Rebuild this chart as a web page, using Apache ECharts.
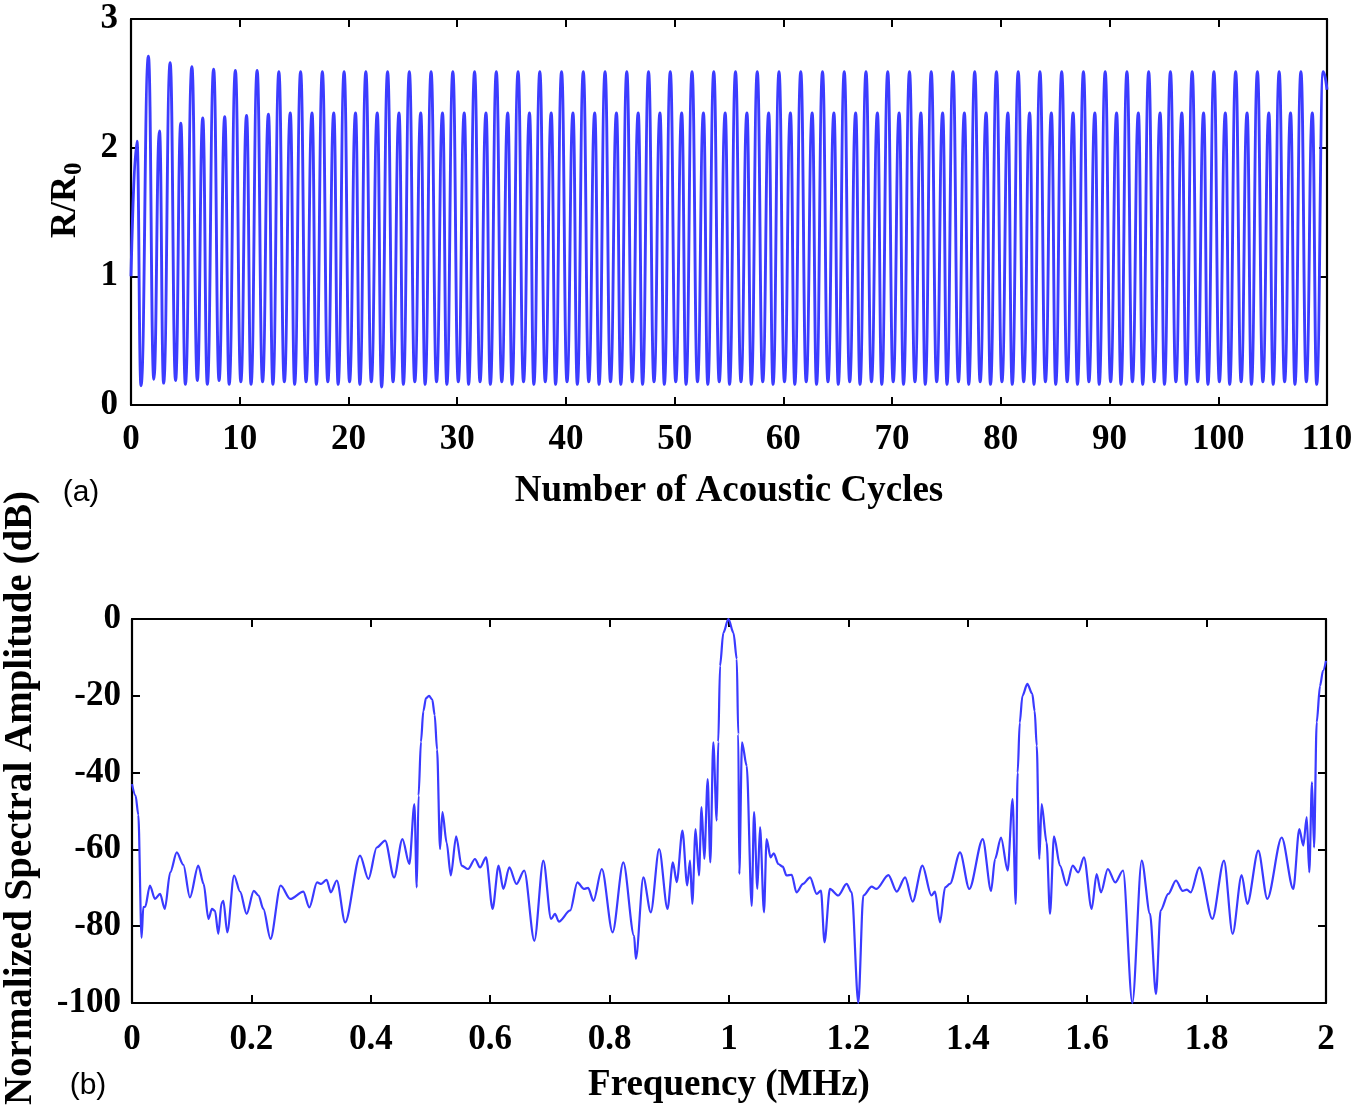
<!DOCTYPE html>
<html>
<head>
<meta charset="utf-8">
<script src="https://cdn.jsdelivr.net/npm/echarts@6/dist/echarts.min.js"></script>
<style>
html,body{margin:0;padding:0;background:#fff;}
#chart{width:1371px;height:1111px;}
</style>
</head>
<body>
<div id="chart"></div>
<script>
// ---------- Panel (a): R/R0 vs number of acoustic cycles ----------
const cyclesRange = [0, 110];
const cyclesTicks = [0, 10, 20, 30, 40, 50, 60, 70, 80, 90, 100, 110];
const radiusTicks = [0, 1, 2, 3];
// [cycle, R/R0] : alternating peaks and troughs
const radiusTrace = [
[0,1.00],[0.55,2.05],[0.92,0.15],
[1.6,2.71],[2.1,0.20],[2.62,2.13],[3.0,0.17],
[3.6,2.66],[4.1,0.19],[4.58,2.19],[5.0,0.16],
[5.6,2.63],[6.1,0.19],[6.6,2.23],[7.02,0.16],
[7.6,2.61],[8.1,0.19],[8.62,2.24],[9.03,0.16],
[9.6,2.60],[10.1,0.18],[10.63,2.25],[11.04,0.16],
[11.6,2.60],[12.1,0.18],[12.64,2.26],[13.05,0.16],
[13.6,2.59],[14.1,0.18],[14.65,2.27],[15.05,0.16],
[15.6,2.59],[16.1,0.18],[16.65,2.27],[17.05,0.16],
[17.6,2.59],[18.1,0.18],[18.65,2.27],[19.05,0.16],
[19.6,2.59],[20.1,0.18],[20.65,2.27],[21.05,0.16],
[21.6,2.59],[22.1,0.18],[22.65,2.27],[23.05,0.14],
[23.6,2.59],[24.1,0.18],[24.65,2.27],[25.05,0.16],
[25.6,2.59],[26.1,0.18],[26.65,2.27],[27.05,0.16],
[27.6,2.59],[28.1,0.18],[28.65,2.27],[29.05,0.16],
[29.6,2.59],[30.1,0.18],[30.65,2.27],[31.05,0.16],
[31.6,2.59],[32.1,0.18],[32.65,2.27],[33.05,0.16],
[33.6,2.59],[34.1,0.18],[34.65,2.27],[35.05,0.16],
[35.6,2.59],[36.1,0.18],[36.65,2.27],[37.05,0.16],
[37.6,2.59],[38.1,0.18],[38.65,2.27],[39.05,0.16],
[39.6,2.59],[40.1,0.18],[40.65,2.27],[41.05,0.16],
[41.6,2.59],[42.1,0.18],[42.65,2.27],[43.05,0.16],
[43.6,2.59],[44.1,0.18],[44.65,2.27],[45.05,0.16],
[45.6,2.59],[46.1,0.18],[46.65,2.27],[47.05,0.16],
[47.6,2.59],[48.1,0.18],[48.65,2.27],[49.05,0.16],
[49.6,2.59],[50.1,0.18],[50.65,2.27],[51.05,0.16],
[51.6,2.59],[52.1,0.18],[52.65,2.27],[53.05,0.16],
[53.6,2.59],[54.1,0.18],[54.65,2.27],[55.05,0.16],
[55.6,2.59],[56.1,0.18],[56.65,2.27],[57.05,0.16],
[57.6,2.59],[58.1,0.18],[58.65,2.27],[59.05,0.16],
[59.6,2.59],[60.1,0.18],[60.65,2.27],[61.05,0.16],
[61.6,2.59],[62.1,0.18],[62.65,2.27],[63.05,0.16],
[63.6,2.59],[64.1,0.18],[64.65,2.27],[65.05,0.16],
[65.6,2.59],[66.1,0.18],[66.65,2.27],[67.05,0.16],
[67.6,2.59],[68.1,0.18],[68.65,2.27],[69.05,0.16],
[69.6,2.59],[70.1,0.18],[70.65,2.27],[71.05,0.16],
[71.6,2.59],[72.1,0.18],[72.65,2.27],[73.05,0.16],
[73.6,2.59],[74.1,0.18],[74.65,2.27],[75.05,0.16],
[75.6,2.59],[76.1,0.18],[76.65,2.27],[77.05,0.16],
[77.6,2.59],[78.1,0.18],[78.65,2.27],[79.05,0.16],
[79.6,2.59],[80.1,0.18],[80.65,2.27],[81.05,0.16],
[81.6,2.59],[82.1,0.18],[82.65,2.27],[83.05,0.16],
[83.6,2.59],[84.1,0.18],[84.65,2.27],[85.05,0.16],
[85.6,2.59],[86.1,0.18],[86.65,2.27],[87.05,0.16],
[87.6,2.59],[88.1,0.18],[88.65,2.27],[89.05,0.16],
[89.6,2.59],[90.1,0.18],[90.65,2.27],[91.05,0.16],
[91.6,2.59],[92.1,0.18],[92.65,2.27],[93.05,0.16],
[93.6,2.59],[94.1,0.18],[94.65,2.27],[95.05,0.16],
[95.6,2.59],[96.1,0.18],[96.65,2.27],[97.05,0.16],
[97.6,2.59],[98.1,0.18],[98.65,2.27],[99.05,0.16],
[99.6,2.59],[100.1,0.18],[100.65,2.27],[101.05,0.16],
[101.6,2.59],[102.1,0.18],[102.65,2.27],[103.05,0.16],
[103.6,2.59],[104.1,0.18],[104.65,2.27],[105.05,0.16],
[105.6,2.59],[106.1,0.18],[106.65,2.27],[107.05,0.16],
[107.6,2.59],[108.1,0.18],[108.65,2.27],[109.05,0.16],
[109.65,2.59],[110,2.45]
];

// ---------- Panel (b): normalized spectral amplitude ----------
const freqRange = [0, 2];
const freqTicks = [0, 0.2, 0.4, 0.6, 0.8, 1, 1.2, 1.4, 1.6, 1.8, 2];
const ampTicks = [-100, -80, -60, -40, -20, 0];
// [MHz, dB]
const spectrum = [
[0.000,-43],[0.006,-46],[0.0106,-51],[0.016,-83],[0.019,-75],[0.022,-75],[0.030,-69.4],
[0.0385,-72.9],[0.047,-71.6],[0.055,-75.5],[0.064,-66],[0.075,-60.8],[0.086,-64],[0.097,-72.5],
[0.111,-64.2],[0.120,-69],[0.128,-78.1],[0.134,-75.5],[0.139,-76],[0.1446,-82],[0.150,-74],
[0.153,-73.4],[0.1596,-81.6],[0.171,-66.8],[0.181,-71],[0.192,-76.8],[0.204,-70.8],[0.212,-72],
[0.220,-75.5],[0.232,-83.3],[0.249,-69.4],[0.265,-72.9],[0.287,-71],[0.297,-75.1],[0.310,-68.6],
[0.317,-69],[0.326,-67.9],[0.333,-71.2],[0.343,-68.1],[0.357,-79],[0.382,-61.6],[0.396,-67.7],
[0.410,-59.5],[0.424,-57.7],[0.439,-67.3],[0.453,-57.3],[0.4646,-63.8],[0.473,-48.2],[0.477,-69.9],
[0.480,-46],[0.484,-32],[0.488,-24],[0.4925,-20.6],[0.4975,-20],[0.503,-21],[0.507,-25],
[0.511,-34],[0.516,-59.9],[0.520,-50.3],
[0.527,-58.2],[0.534,-66.8],[0.543,-56.6],[0.552,-64.2],[0.563,-65.1],[0.5745,-62.5],[0.583,-64.7],
[0.593,-62.1],[0.604,-75.5],[0.614,-64.2],[0.622,-70.3],[0.632,-64.7],[0.644,-69],[0.657,-65.5],
[0.674,-83.8],[0.689,-62.9],[0.702,-78.1],[0.7085,-76.8],[0.715,-78.8],[0.734,-75.9],[0.746,-68.6],
[0.757,-70.3],[0.764,-70],[0.773,-73.4],[0.787,-65.1],[0.805,-81.6],[0.823,-63.4],[0.841,-82.5],
[0.844,-88.5],[0.8565,-67.3],[0.869,-76.4],[0.883,-59.9],[0.897,-75.5],[0.906,-63.4],[0.9125,-68.5],
[0.922,-55.1],[0.930,-69.4],[0.9347,-62.9],[0.9385,-74.2],[0.944,-54.7],[0.9497,-66.8],[0.954,-49],
[0.9586,-62.5],[0.9643,-41.7],[0.9687,-63.4],[0.9737,-32.1],[0.9794,-52.5],[0.982,-32],
[0.985,-12.2],[0.9905,-3.6],[0.999,0],[1.0075,-3.6],[1.013,-10.4],[1.0155,-30],[1.0173,-66.4],
[1.0218,-32.1],[1.0296,-38.2],[1.038,-74.7],
[1.042,-50.3],[1.0475,-70.3],[1.052,-54.2],[1.0586,-76.4],[1.063,-57.3],[1.0697,-62.1],[1.075,-61],
[1.0826,-63.8],[1.090,-64.5],[1.0964,-66.8],[1.105,-66.6],[1.113,-71.2],[1.124,-69],[1.1357,-67.3],
[1.147,-71.6],[1.154,-70.7],[1.160,-84.2],[1.169,-70.3],[1.183,-72],[1.197,-69],[1.2055,-71.2],
[1.2166,-100],[1.225,-72],[1.239,-69.7],[1.247,-70.3],[1.267,-66.7],[1.281,-71],[1.295,-67.3],
[1.3076,-73.6],[1.324,-64.2],[1.339,-72],[1.345,-71],[1.3534,-79],[1.362,-69.9],[1.370,-69],
[1.387,-60.8],[1.4025,-70.3],[1.425,-57.3],[1.439,-70.8],[1.4456,-62.5],[1.4556,-56.9],[1.4668,-65.5],
[1.475,-46.9],[1.4802,-74.2],[1.4835,-40],[1.487,-27],[1.4915,-20],[1.4997,-16.9],[1.508,-19.5],
[1.512,-24],[1.5155,-33],[1.5198,-62.5],[1.5237,-48.2],[1.532,-58.2],[1.5377,-76.8],[1.5444,-56.6],
[1.5544,-64.2],[1.5656,-69.4],
[1.5757,-64.2],[1.585,-66],[1.5946,-62.1],[1.6075,-75.5],[1.6158,-66.4],[1.623,-71.2],[1.6345,-65.1],
[1.647,-68.6],[1.660,-65.5],[1.6756,-100],[1.6913,-62.9],[1.7052,-76.8],[1.7152,-97.7],[1.723,-75.9],
[1.7358,-71.6],[1.7487,-68.1],[1.7599,-70.8],[1.767,-70.5],[1.7733,-71.2],[1.7878,-64.7],[1.8096,-78.1],
[1.8291,-62.9],[1.8436,-82],[1.8587,-66.7],[1.8682,-74.2],[1.8866,-60.3],[1.9017,-72.9],[1.9258,-56.9],
[1.9452,-70.3],[1.9553,-54.7],[1.962,-59],[1.9677,-51.6],[1.972,-66],[1.9765,-42.5],[1.980,-59.5],
[1.9844,-26.9],[1.990,-17.4],[1.995,-13.5],[2.000,-10.9]
];

const SERIF = "'Liberation Serif','Times New Roman',serif";
const tickFont = {fontFamily: SERIF, fontWeight: 'bold', fontSize: 35, color: '#000'};
const titleFont = {fontFamily: SERIF, fontWeight: 'bold', fontSize: 37, color: '#000'};
const lineBlack = {show: true, onZero: false, lineStyle: {color: '#000', width: 2.2}};
const tickIn = {show: true, inside: true, length: 8, lineStyle: {color: '#000', width: 2}};

function fmt(v) { return String(+(+v).toFixed(2)); }

function xAx(grid, range, ticks, pos, showLabel, margin, name, gap) {
  return {
    gridIndex: grid, type: 'value', position: pos,
    min: range[0], max: range[1], interval: ticks[1] - ticks[0],
    axisLine: lineBlack, axisTick: tickIn, splitLine: {show: false},
    axisLabel: Object.assign({show: showLabel, margin: margin, formatter: fmt}, tickFont),
    name: name || '', nameLocation: 'middle', nameGap: gap || 0, nameTextStyle: titleFont
  };
}
function yAx(grid, ticks, pos, showLabel, margin) {
  return {
    gridIndex: grid, type: 'value', position: pos,
    min: ticks[0], max: ticks[ticks.length - 1], interval: ticks[1] - ticks[0],
    axisLine: lineBlack, axisTick: tickIn, splitLine: {show: false},
    axisLabel: Object.assign({show: showLabel, margin: margin, formatter: fmt}, tickFont)
  };
}

const chart = echarts.init(document.getElementById('chart'));
chart.setOption({
  animation: false,
  backgroundColor: '#fff',
  grid: [
    {left: 131, top: 19, width: 1196, height: 386},
    {left: 132, top: 619, width: 1194, height: 384}
  ],
  xAxis: [
    xAx(0, cyclesRange, cyclesTicks, 'bottom', true, 17, 'Number of Acoustic Cycles', 68),
    xAx(0, cyclesRange, cyclesTicks, 'top', false, 8),
    xAx(1, freqRange, freqTicks, 'bottom', true, 19, 'Frequency (MHz)', 64),
    xAx(1, freqRange, freqTicks, 'top', false, 8)
  ],
  yAxis: [
    yAx(0, radiusTicks, 'left', true, 13),
    yAx(0, radiusTicks, 'right', false, 8),
    yAx(1, ampTicks, 'left', true, 11),
    yAx(1, ampTicks, 'right', false, 8)
  ],
  series: [
    {type: 'line', xAxisIndex: 0, yAxisIndex: 0, data: radiusTrace, showSymbol: false,
     smooth: 0.5, smoothMonotone: 'x', lineStyle: {color: '#3c3cff', width: 2.9}},
    {type: 'line', xAxisIndex: 2, yAxisIndex: 2, data: spectrum, showSymbol: false,
     smooth: 0.3, smoothMonotone: 'x', lineStyle: {color: '#3a3aff', width: 2.2}}
  ],
  graphic: [
    {type: 'group', x: 66, y: 212, rotation: Math.PI / 2, children: [
      {type: 'text', x: 36, y: 0, style: {text: 'R/R', font: "bold 36px 'Liberation Serif'", fill: '#000', align: 'right', verticalAlign: 'middle'}},
      {type: 'text', x: 37, y: 9, style: {text: '0', font: "bold 25px 'Liberation Serif'", fill: '#000', align: 'left', verticalAlign: 'middle'}}
    ]},
    {type: 'text', x: 21, y: 798, rotation: Math.PI / 2,
     style: {text: 'Normalized Spectral Amplitude (dB)', font: "bold 39px 'Liberation Serif'", fill: '#000', align: 'center', verticalAlign: 'middle'}},
    {type: 'text', x: 81, y: 493, style: {text: '(a)', font: "30px 'Liberation Sans'", fill: '#000', align: 'center', verticalAlign: 'middle'}},
    {type: 'text', x: 88, y: 1086, style: {text: '(b)', font: "30px 'Liberation Sans'", fill: '#000', align: 'center', verticalAlign: 'middle'}}
  ]
});
</script>
</body>
</html>
